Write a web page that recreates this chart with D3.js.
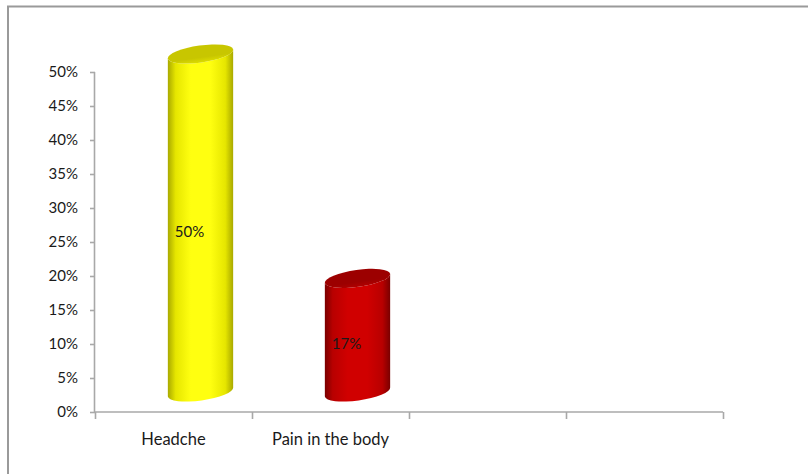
<!DOCTYPE html>
<html>
<head>
<meta charset="utf-8">
<script src="https://cdn.jsdelivr.net/npm/d3@7/dist/d3.min.js"></script>
<style>
  body { margin: 0; background: #fff; }
  text { font-family: Lato, "Liberation Sans", sans-serif; fill: #1a1a1a; }
</style>
</head>
<body>
<div id="chart"></div>
<script>
// Chart data
var categories = [ 'Headche', 'Pain in the body', '', '' ];
var values = [ 0.50, 0.17, null, null ];
var value_labels = [ '50%', '17%', '', '' ];
var y_ticks = [ 0, 0.05, 0.10, 0.15, 0.20, 0.25, 0.30, 0.35, 0.40, 0.45, 0.50 ];

// Colour sets for the cylinders
var bar_colors = [
  { edge: '#a9a900', mid: '#e6e600', light: '#ffff10', top: '#c8c600', top_light: '#dcdc00' },
  { edge: '#7a0000', mid: '#b80000', light: '#d00000', top: '#9c0000', top_light: '#b00000' }
];

var width = 808, height = 474;
var margin = { left: 95, right: 85, top: 72, bottom: 62 };
var depth_x = 27, depth_y = 18;   // 3D offset of the cylinders

var svg = d3.select( '#chart' )
  .append( 'svg' )
    .attr( 'width', width )
    .attr( 'height', height );

// Outer border (only top and left show in the frame).
svg.append( 'path' )
  .attr( 'd', 'M8,' + height + ' L8,6.5 L' + width + ',6.5' )
  .attr( 'fill', 'none' )
  .attr( 'stroke', '#9a9a9a' )
  .attr( 'stroke-width', 2 );

// Scales
var x = d3.scaleBand()
  .domain( d3.range( categories.length ) )
  .range( [ margin.left, width - margin.right ] );
var x_edges = d3.scaleLinear()
  .domain( [ 0, categories.length ] )
  .range( [ margin.left, width - margin.right ] );
var y = d3.scaleLinear()
  .domain( [ 0, 0.5 ] )
  .range( [ height - margin.bottom, margin.top ] );

// Y axis
var y_axis = svg.append( 'g' )
  .attr( 'transform', 'translate(' + margin.left + ',0)' )
  .call( d3.axisLeft( y )
    .tickValues( y_ticks )
    .tickFormat( d3.format( '.0%' ) )
    .tickSize( 5 )
    .tickPadding( 12 ) );

// X axis, ticks sit on category boundaries
var x_axis = svg.append( 'g' )
  .attr( 'transform', 'translate(0,' + y( 0 ) + ')' )
  .call( d3.axisBottom( x_edges )
    .tickValues( d3.range( categories.length + 1 ) )
    .tickFormat( '' )
    .tickSize( 7 ) );

[ y_axis, x_axis ].forEach( function( g ){
  g.select( '.domain' ).attr( 'stroke', '#a8a8a8' ).attr( 'stroke-width', 1.6 );
  g.selectAll( '.tick line' ).attr( 'stroke', '#a8a8a8' ).attr( 'stroke-width', 1.6 );
});
y_axis.select( '.domain' ).attr( 'd', 'M-0.5,' + y( 0.5 ) + 'V' + y( 0 ) );
x_axis.select( '.domain' ).attr( 'd', 'M' + margin.left + ',0H' + ( width - margin.right ) );
y_axis.selectAll( '.tick text' )
  .style( 'font-size', '15px' )
  .attr( 'fill', '#1a1a1a' );

// Category labels
svg.selectAll( 'text.cat' )
  .data( categories )
  .enter()
  .append( 'text' )
    .attr( 'class', 'cat' )
    .attr( 'x', function( d, i ){ return x( i ) + x.bandwidth() / 2; } )
    .attr( 'y', y( 0 ) + 33 )
    .attr( 'text-anchor', 'middle' )
    .style( 'font-size', '16.5px' )
    .text( function( d ){ return d; } );

// Gradients
var defs = svg.append( 'defs' );
bar_colors.forEach( function( c, i ){
  var g = defs.append( 'linearGradient' )
    .attr( 'id', 'body' + i )
    .attr( 'x1', '0' ).attr( 'x2', '1' ).attr( 'y1', '0' ).attr( 'y2', '0' );
  g.append( 'stop' ).attr( 'offset', '0' ).attr( 'stop-color', c.edge );
  g.append( 'stop' ).attr( 'offset', '0.12' ).attr( 'stop-color', c.mid );
  g.append( 'stop' ).attr( 'offset', '0.35' ).attr( 'stop-color', c.light );
  g.append( 'stop' ).attr( 'offset', '0.65' ).attr( 'stop-color', c.light );
  g.append( 'stop' ).attr( 'offset', '0.88' ).attr( 'stop-color', c.mid );
  g.append( 'stop' ).attr( 'offset', '1' ).attr( 'stop-color', c.edge );

  var t = defs.append( 'linearGradient' )
    .attr( 'id', 'top' + i )
    .attr( 'x1', '0' ).attr( 'x2', '0' ).attr( 'y1', '0' ).attr( 'y2', '1' );
  t.append( 'stop' ).attr( 'offset', '0' ).attr( 'stop-color', c.top );
  t.append( 'stop' ).attr( 'offset', '0.7' ).attr( 'stop-color', c.top );
  t.append( 'stop' ).attr( 'offset', '1' ).attr( 'stop-color', c.top_light );
});

// Cylinders
var rx = x.bandwidth() * 0.21, ry = 8.5, tilt = -8;
var cos_t = Math.cos( tilt * Math.PI / 180 ), sin_t = Math.sin( tilt * Math.PI / 180 );

function cylinder_body( cx, y_top, y_bot ){
  var dx = rx * cos_t, dy = rx * sin_t;
  return 'M' + ( cx - dx ) + ',' + ( y_top - dy ) +
    ' L' + ( cx - dx ) + ',' + ( y_bot - dy ) +
    ' A' + rx + ',' + ry + ' ' + tilt + ' 0 0 ' + ( cx + dx ) + ',' + ( y_bot + dy ) +
    ' L' + ( cx + dx ) + ',' + ( y_top + dy ) +
    ' A' + rx + ',' + ry + ' ' + tilt + ' 0 1 ' + ( cx - dx ) + ',' + ( y_top - dy ) + 'Z';
}

var bars = svg.selectAll( 'g.bar' )
  .data( values.map( function( v, i ){ return { v: v, i: i }; } ).filter( function( d ){ return d.v != null; } ) )
  .enter()
  .append( 'g' )
    .attr( 'class', 'bar' );

bars.append( 'path' )
  .attr( 'd', function( d ){
    var cx = x( d.i ) + x.bandwidth() / 2 + depth_x;
    return cylinder_body( cx, y( d.v ) - depth_y, y( 0 ) - depth_y - 2 );
  })
  .attr( 'fill', function( d ){ return 'url(#body' + d.i + ')'; } );

bars.append( 'ellipse' )
  .attr( 'cx', 0 ).attr( 'cy', 0 )
  .attr( 'rx', rx ).attr( 'ry', ry )
  .attr( 'transform', function( d ){
    var cx = x( d.i ) + x.bandwidth() / 2 + depth_x;
    return 'translate(' + cx + ',' + ( y( d.v ) - depth_y ) + ') rotate(' + tilt + ')';
  })
  .attr( 'fill', function( d ){ return 'url(#top' + d.i + ')'; } );

// Value labels
bars.append( 'text' )
  .attr( 'x', function( d ){ return x( d.i ) + x.bandwidth() / 2 + depth_x - 11; } )
  .attr( 'y', function( d ){ return y( d.v / 2 ) - 10; } )
  .attr( 'text-anchor', 'middle' )
  .attr( 'dy', '0.35em' )
  .style( 'font-size', '15px' )
  .text( function( d ){ return value_labels[ d.i ]; } );
</script>
</body>
</html>
